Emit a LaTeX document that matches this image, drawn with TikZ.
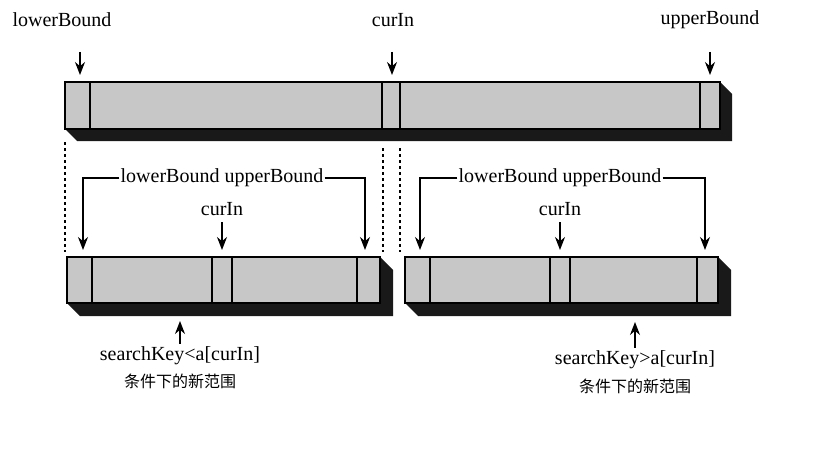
\documentclass[tikz,border=0pt]{standalone}
\usepackage{fontspec}
\setmainfont{Liberation Serif}
\newfontfamily\cjk{Noto Sans CJK SC}
\usetikzlibrary{arrows.meta}
\tikzset{
  lbl/.style={font=\fontsize{20}{22}\selectfont, inner sep=1pt},
  cn/.style={font=\cjk\fontsize{16}{18}\selectfont, inner sep=1pt},
  arr/.style={-{Stealth[length=13pt,width=10pt]}, line width=1.3pt},
  brk/.style={line width=1.3pt},
  dots/.style={line width=1.8pt, dash pattern=on 3pt off 3pt},
  face/.style={fill=black!22, draw=black, line width=1.4pt},
}
\newcommand{\mybar}[5]{% x0 x1 ytop ybot depth
  \fill[black!90] (#1,#4) -- (#1+#5,#4+#5) -- (#2+#5,#4+#5) -- (#2+#5,#3+#5) -- (#2,#3) -- cycle;
  \draw[face] (#1,#3) rectangle (#2,#4);}
\begin{document}
\begin{tikzpicture}[x=1pt,y=-1pt]
\useasboundingbox[fill=white] (0,0) rectangle (822,452);
% top bar
\mybar{65}{720}{82}{129}{12}
\foreach \x in {90,382,400,700} \draw[line width=1.4pt] (\x,82) -- (\x,129);
% bottom bars
\mybar{67}{380}{257}{303}{13}
\foreach \x in {92,212,232,357} \draw[line width=1.4pt] (\x,257) -- (\x,303);
\mybar{405}{718}{257}{303}{13}
\foreach \x in {430,550,570,697} \draw[line width=1.4pt] (\x,257) -- (\x,303);
% dotted
\draw[dots] (65,142) -- (65,252);
\draw[dots] (383,148) -- (383,252);
\draw[dots] (400,148) -- (400,252);
% top labels
\node[lbl] (tl) at (62,20) {lowerBound};
\node[lbl] (tc) at (393,20) {curIn};
\node[lbl] (tu) at (710,20) {upperBound};
\coordinate (tla) at (80,75); \coordinate (tca) at (392,75); \coordinate (tua) at (710,75);
\draw[arr] (80,52) -- (tla);
\draw[arr] (392,52) -- (tca);
\draw[arr] (710,52) -- (tua);
% left group labels
\node[lbl] (l1) at (222,178) {lowerBound upperBound};
\node[lbl] (l2) at (222,209) {curIn};
\coordinate (la) at (83,250); \coordinate (lb) at (365,250); \coordinate (lc) at (222,250);
\draw[arr] (l1.west) -| (la);
\draw[arr] (l1.east) -| (lb);
\draw[arr] (222,222) -- (lc);
% right group labels
\node[lbl] (r1) at (560,178) {lowerBound upperBound};
\node[lbl] (r2) at (560,209) {curIn};
\coordinate (ra) at (420,250); \coordinate (rb) at (705,250); \coordinate (rc) at (560,250);
\draw[arr] (r1.west) -| (ra);
\draw[arr] (r1.east) -| (rb);
\draw[arr] (560,222) -- (rc);
% bottom notes
\node[lbl] (n1) at (180,356) {searchKey<a[curIn]};
\node[cn] (c1) at (180,381) {条件下的新范围};
\coordinate (n1a) at (180,321);
\draw[arr] (n1.north) ++(0,-2) -- (n1a);
\node[lbl] (n2) at (635,360) {searchKey>a[curIn]};
\node[cn] (c2) at (635,386) {条件下的新范围};
\coordinate (n2a) at (635,322);
\draw[arr] (n2.north) ++(0,-2) -- (n2a);
\end{tikzpicture}
\end{document}
